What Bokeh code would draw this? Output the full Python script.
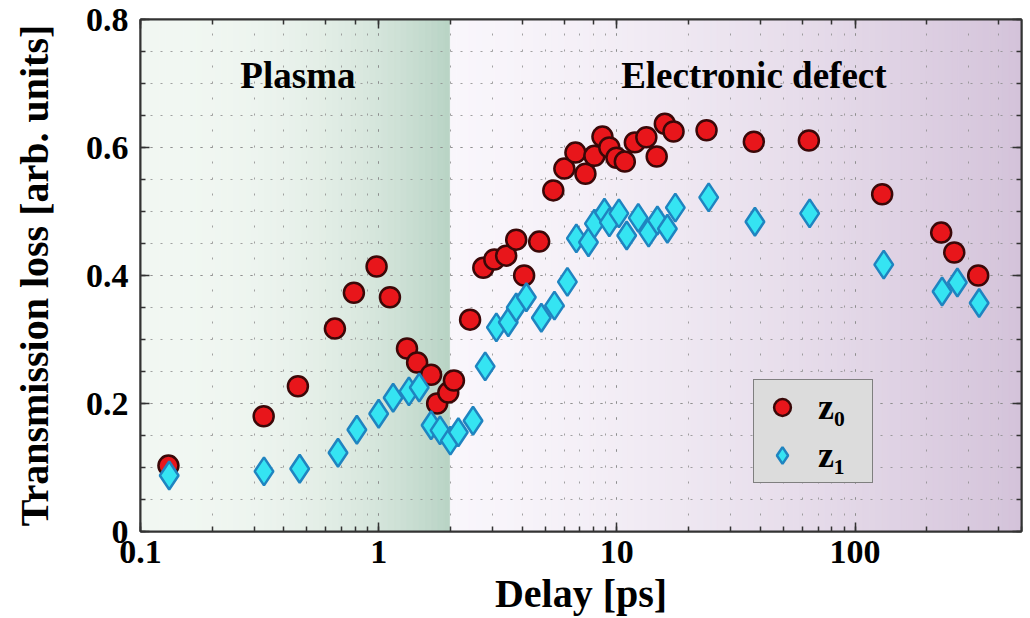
import numpy as np
from bokeh.plotting import figure
from bokeh.models import (LogAxis, LinearAxis, Legend, LegendItem, Label, FixedTicker,
                          LogTicker, Range1d, CustomJSTickFormatter)
from bokeh.embed import file_html
from bokeh.resources import INLINE

# ---------------- data ----------------
z0_delay = [0.131, 0.329, 0.458, 0.655, 0.787, 0.98, 1.115, 1.315, 1.45, 1.66, 1.76, 1.96,
            2.07, 2.42, 2.75, 3.06, 3.43, 3.78, 4.08, 4.72, 5.41, 6.02, 6.7, 7.38, 8.05,
            8.7, 9.3, 9.96, 10.8, 11.9, 13.3, 14.7, 15.9, 17.3, 23.8, 37.6, 64, 130, 230,
            261, 329]
z0_loss = [0.103, 0.18, 0.227, 0.317, 0.373, 0.414, 0.366, 0.286, 0.264, 0.245, 0.20, 0.217,
           0.236, 0.331, 0.412, 0.425, 0.431, 0.456, 0.40, 0.453, 0.533, 0.567, 0.592, 0.559,
           0.587, 0.617, 0.60, 0.584, 0.578, 0.608, 0.616, 0.586, 0.637, 0.625, 0.627, 0.609,
           0.611, 0.527, 0.467, 0.436, 0.40]

z1_delay = [0.132, 0.33, 0.466, 0.675, 0.81, 1.0, 1.15, 1.34, 1.48, 1.66, 1.81, 2.0, 2.16,
            2.49, 2.80, 3.12, 3.50, 3.78, 4.17, 4.82, 5.47, 6.2, 6.76, 7.6, 8.05, 8.87, 9.3,
            10.2, 11.0, 12.3, 13.6, 14.8, 16.3, 17.6, 24.3, 38, 64.5, 132, 232, 269, 332]
z1_loss = [0.0875, 0.094, 0.098, 0.123, 0.159, 0.184, 0.209, 0.219, 0.225, 0.166, 0.158,
           0.142, 0.155, 0.173, 0.258, 0.319, 0.327, 0.35, 0.366, 0.334, 0.353, 0.39, 0.458,
           0.452, 0.481, 0.498, 0.483, 0.497, 0.4625, 0.49, 0.467, 0.486, 0.473, 0.506,
           0.522, 0.484, 0.497, 0.417, 0.375, 0.389, 0.357]

series_labels = ["z\u2080", "z\u2081"]
region_labels = ["Plasma", "Electronic defect"]
region_edges = [0.1, 2, 500]
y_ticks = [0, 0.2, 0.4, 0.6, 0.8]
y_minor = [round(0.05 * i, 2) for i in range(17)]

FONT = "Liberation Serif"

p = figure(x_axis_type="log", x_range=Range1d(0.1, 500), y_range=Range1d(0, 0.8),
           frame_width=881, frame_height=512, output_backend="svg", toolbar_location=None,
           min_border_left=140, min_border_top=19, min_border_right=2, min_border_bottom=10,
           background_fill_color="white", border_fill_color="white")


def grad(c0, c1, n, gamma):
    out = []
    for i in range(n):
        t = (i + 0.5) / n
        f = t ** gamma
        out.append("#%02x%02x%02x" % tuple(round(a + (b - a) * f) for a, b in zip(c0, c1)))
    return out


# background gradient bands
ng = 50
ge = np.logspace(np.log10(region_edges[0]), np.log10(region_edges[1]), ng + 1)
gc = grad((241, 247, 242), (184, 211, 196), ng, 2.6)
p.quad(left=ge[:-1], right=ge[1:], bottom=0, top=0.8, fill_color=gc, line_color=gc,
       line_width=1, level="image")
npu = 90
pe = np.logspace(np.log10(region_edges[1]), np.log10(region_edges[2]), npu + 1)
pc = grad((249, 246, 251), (212, 195, 218), npu, 1.4)
p.quad(left=pe[:-1], right=pe[1:], bottom=0, top=0.8, fill_color=pc, line_color=pc,
       line_width=1, level="image")

# data
r0 = p.scatter(z0_delay, z0_loss, marker="circle", size=20, fill_color="#e8161b",
               line_color="#3a0808", line_width=2.5)
r1 = p.scatter(z1_delay, z1_loss, marker="diamond", size=28, fill_color="#35e4f2",
               line_color="#1f84c0", line_width=2.5)

# axes
yt = FixedTicker(ticks=y_ticks, minor_ticks=y_minor)
p.yaxis.ticker = yt
p.ygrid.ticker = yt
p.yaxis.formatter = CustomJSTickFormatter(code="return tick == 0 ? '0' : tick.toFixed(1);")
p.xaxis.formatter = CustomJSTickFormatter(code="return tick < 0.5 ? tick.toFixed(1) : tick.toFixed(0);")


def style_axis(ax):
    ax.axis_line_color = "#333333"
    ax.axis_line_width = 2
    ax.major_tick_in = 9
    ax.major_tick_out = 0
    ax.minor_tick_in = 5
    ax.minor_tick_out = 0
    ax.major_tick_line_color = "#333333"
    ax.major_tick_line_width = 1.5
    ax.minor_tick_line_color = "#333333"
    ax.minor_tick_line_width = 1.5


for ax in [p.xaxis[0], p.yaxis[0]]:
    style_axis(ax)
    ax.major_label_text_font = FONT
    ax.major_label_text_font_style = "bold"
    ax.major_label_text_font_size = "34px"
    ax.major_label_text_color = "black"
    ax.axis_label_text_font = FONT
    ax.axis_label_text_font_style = "bold"
    ax.axis_label_text_font_size = "40px"
    ax.axis_label_text_color = "black"

p.xaxis.axis_label = "Delay [ps]"
p.yaxis.axis_label = "Transmission loss [arb. units]"
p.xaxis.major_label_standoff = 9
p.xaxis.axis_label_standoff = 5
p.yaxis.major_label_standoff = 12
p.yaxis.axis_label_standoff = 26

top_ax = LogAxis(ticker=LogTicker(), major_label_text_font_size="1px", major_label_text_alpha=0)
right_ax = LinearAxis(ticker=yt, major_label_text_font_size="1px", major_label_text_alpha=0)
for ax in [top_ax, right_ax]:
    style_axis(ax)
    ax.major_label_standoff = 0
p.add_layout(top_ax, "above")
p.add_layout(right_ax, "right")

# grids
for g, dash in [(p.xgrid[0], "2 14"), (p.ygrid[0], "2 8")]:
    g.grid_line_color = "#8c8c8c"
    g.grid_line_alpha = 0.8
    g.grid_line_dash = dash
    g.grid_line_width = 1
    g.minor_grid_line_color = "#8c8c8c"
    g.minor_grid_line_alpha = 0.8
    g.minor_grid_line_dash = dash
    g.minor_grid_line_width = 1
    g.level = "underlay"

p.outline_line_color = "#333333"
p.outline_line_width = 2

# region labels
for txt, xv in [(region_labels[0], 0.458), (region_labels[1], 37.6)]:
    p.add_layout(Label(x=xv, y=0.7125, text=txt, text_align="center", text_baseline="middle",
                       text_font=FONT, text_font_style="bold", text_font_size="37px",
                       text_color="black"))

legend = Legend(items=[LegendItem(label=series_labels[0], renderers=[r0]),
                       LegendItem(label=series_labels[1], renderers=[r1])],
                location=(613, 48), orientation="vertical",
                background_fill_color="#dcdcdc", background_fill_alpha=1,
                border_line_color="#222222", border_line_width=1.5,
                label_text_font=FONT, label_text_font_style="bold", label_text_font_size="36px",
                label_text_color="black",
                glyph_width=44, glyph_height=42, label_height=42, label_width=48,
                label_standoff=14, padding=6, spacing=6, margin=0)
p.add_layout(legend)

open("out.html", "w").write(file_html(p, INLINE))
